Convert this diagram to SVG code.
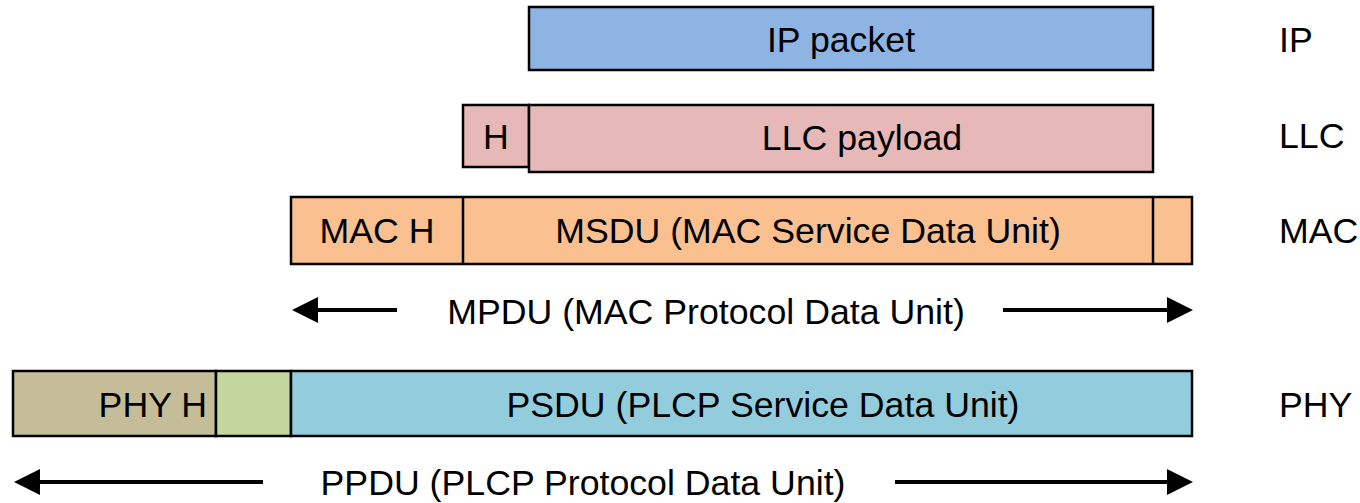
<svg xmlns="http://www.w3.org/2000/svg" width="1360" height="503" viewBox="0 0 1360 503">
<style>
text{font-family:"Liberation Sans",Arial,sans-serif;font-size:35.7px;fill:#000}
.b{stroke:#000;stroke-width:2.5}
.c{text-anchor:middle}
.a{stroke:#000;stroke-width:4;fill:none}
</style>
<rect width="1360" height="503" fill="#fff"/>
<g id="ip"><rect class="b" x="529" y="7" width="624" height="63" fill="#8EB4E3"/><text class="c" x="841" y="52">IP packet</text></g>
<g id="llc-h"><rect class="b" x="463" y="105" width="66" height="62" fill="#E6B9B8"/><text class="c" x="496" y="149">H</text></g>
<g id="llc-payload"><rect class="b" x="529" y="105" width="624" height="67" fill="#E6B9B8"/><text class="c" x="862" y="150">LLC payload</text></g>
<g id="mac"><rect class="b" x="291" y="197" width="901" height="67" fill="#FAC090"/><line class="b" x1="463" y1="197" x2="463" y2="264"/><line class="b" x1="1153" y1="197" x2="1153" y2="264"/><text class="c" x="377" y="243">MAC H</text><text class="c" x="808" y="243">MSDU (MAC Service Data Unit)</text></g>
<g id="phy"><rect class="b" x="13" y="371" width="203" height="65" fill="#C4BD97"/><rect class="b" x="216" y="371" width="75" height="65" fill="#C3D69B"/><rect class="b" x="291" y="371" width="901" height="65" fill="#93CDDD"/><text x="207" y="417" text-anchor="end">PHY H</text><text class="c" x="763" y="417">PSDU (PLCP Service Data Unit)</text></g>
<g id="layers"><text x="1279" y="52">IP</text><text x="1279" y="148">LLC</text><text x="1279" y="243">MAC</text><text x="1279" y="417">PHY</text></g>
<g id="connectors">
<path d="M397,310 L300,310" class="a"/><path d="M318,297 L292,310 L318,323 Z" fill="#000"/>
<path d="M1003,310 L1180,310" class="a"/><path d="M1167,297 L1193,310 L1167,323 Z" fill="#000"/>
<path d="M263,482 L30,482" class="a"/><path d="M40,469 L14,482 L40,495 Z" fill="#000"/>
<path d="M895,482 L1180,482" class="a"/><path d="M1167,469 L1193,482 L1167,495 Z" fill="#000"/>
</g>
<g id="labels"><text class="c" x="706" y="324">MPDU (MAC Protocol Data Unit)</text><text class="c" x="583" y="495">PPDU (PLCP Protocol Data Unit)</text></g>
</svg>
